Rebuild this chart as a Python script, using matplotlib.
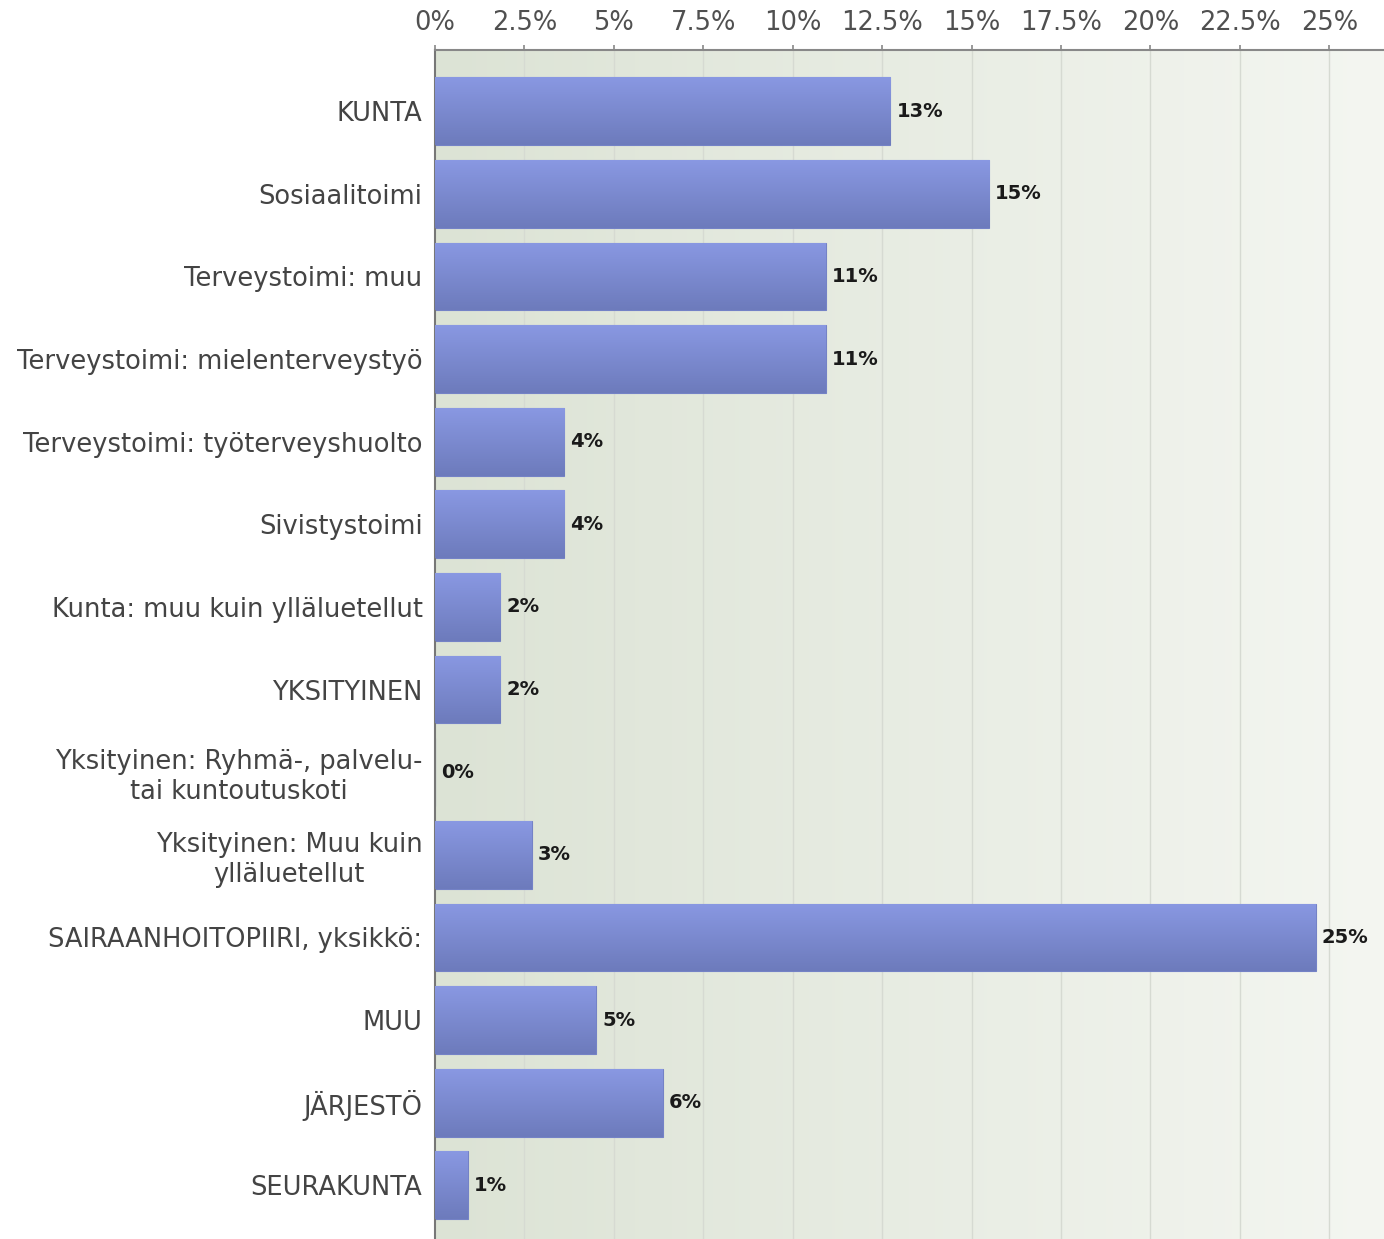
import numpy as np
import matplotlib.pyplot as plt
from matplotlib.colors import LinearSegmentedColormap

# ------------------------------------------
# Data
# ------------------------------------------

categories = [
    'KUNTA',
    'Sosiaalitoimi',
    'Terveystoimi: muu',
    'Terveystoimi: mielenterveystyö',
    'Terveystoimi: työterveyshuolto',
    'Sivistystoimi',
    'Kunta: muu kuin ylläluetellut',
    'YKSITYINEN',
    'Yksityinen: Ryhmä-, palvelu-\ntai kuntoutuskoti',
    'Yksityinen: Muu kuin\nylläluetellut',
    'SAIRAANHOITOPIIRI, yksikkö:',
    'MUU',
    'JÄRJESTÖ',
    'SEURAKUNTA',
]
values = [12.73, 15.49, 10.93, 10.93, 3.61, 3.61, 1.82, 1.82, 0.0, 2.71, 24.62, 4.5, 6.37, 0.91]
value_labels = ['13%', '15%', '11%', '11%', '4%', '4%', '2%', '2%', '0%', '3%', '25%', '5%', '6%', '1%']
tick_values = [0, 2.5, 5, 7.5, 10, 12.5, 15, 17.5, 20, 22.5, 25]
tick_labels = ['0%', '2.5%', '5%', '7.5%', '10%', '12.5%', '15%', '17.5%', '20%', '22.5%', '25%']

# ------------------------------------------
# Figure
# ------------------------------------------

W, H = 1384, 1239
fig = plt.figure(figsize=(W / 100, H / 100), dpi=100)
ax = fig.add_axes([435 / W, 0, 1 - 435 / W, (H - 50) / H])

xmax = (W - 435) / 35.77
ymin, ymax = 13.65, -0.74

# background gradient (left darker green-grey -> right lighter)
bg_cmap = LinearSegmentedColormap.from_list('bg', ['#dce3d5', '#f4f6f1'])
ax.imshow(np.linspace(0, 1, 256).reshape(1, -1), cmap=bg_cmap, aspect='auto',
          extent=(0, xmax, ymin, ymax), zorder=0)

for t in tick_values[1:]:
    ax.axvline(t, color='#d6dad2', lw=1.0, zorder=1)

# bars with vertical gradient
bar_cmap = LinearSegmentedColormap.from_list('bar', ['#8998e2', '#6d7bbc'])
y = np.arange(len(categories))
bars = ax.barh(y, values, height=0.82, color='#7a88cc', edgecolor='#7482c6', lw=0.8, zorder=2)
for b in bars:
    if b.get_width() <= 0:
        continue
    im = ax.imshow(np.linspace(0, 1, 64).reshape(-1, 1), cmap=bar_cmap, aspect='auto',
                   extent=(b.get_x(), b.get_x() + b.get_width(),
                           b.get_y() + b.get_height(), b.get_y()), zorder=3)
    im.set_clip_path(b)

for yi, v, lab in zip(y, values, value_labels):
    ax.text(v + 0.17, yi, lab, va='center', ha='left', fontsize=14,
            fontweight='bold', color='#1a1a1a', family='DejaVu Sans', zorder=4)

ax.set_xlim(0, xmax)
ax.set_ylim(ymin, ymax)

# axes styling
ax.xaxis.tick_top()
ax.set_xticks(tick_values)
ax.set_xticklabels(tick_labels, fontsize=18.5, color='#505050', family='DejaVu Sans')
ax.tick_params(axis='x', length=3.6, width=1.2, color='#888888', pad=6.5)
ax.set_yticks(y)
ax.set_yticklabels(categories, fontsize=18.5, color='#444444', family='DejaVu Sans',
                   multialignment='center')
ax.tick_params(axis='y', length=0, pad=9)

for s in ['right', 'bottom']:
    ax.spines[s].set_visible(False)
ax.spines['top'].set_color('#888888')
ax.spines['top'].set_linewidth(1.5)
ax.spines['left'].set_color('#777777')
ax.spines['left'].set_linewidth(1.5)

fig.savefig('out.png', dpi=100)
